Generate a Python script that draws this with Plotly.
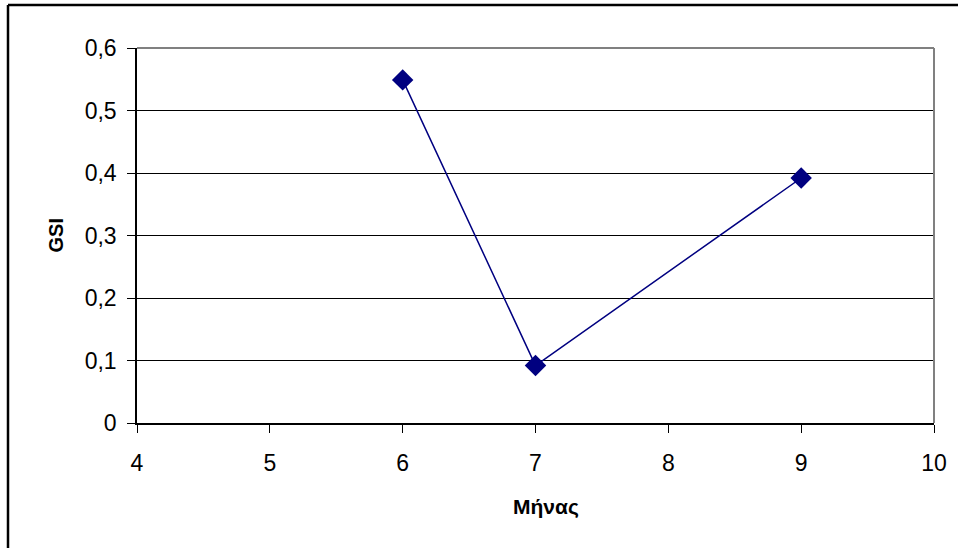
import plotly.graph_objects as go

months = [6, 7, 9]
gsi = [0.549, 0.092, 0.392]
y_ticks = [0, 0.1, 0.2, 0.3, 0.4, 0.5, 0.6]
y_tick_labels = ["0", "0,1", "0,2", "0,3", "0,4", "0,5", "0,6"]
x_ticks = [4, 5, 6, 7, 8, 9, 10]
x_label = "Μήνας"
y_label = "GSI"

W, H = 958, 548
L, R, T, B = 137, 24, 48, 125
pw, ph = W - L - R, H - T - B

fig = go.Figure()
fig.add_trace(go.Scatter(
    x=months, y=gsi, mode="lines+markers",
    line=dict(color="#000080", width=1.5),
    marker=dict(symbol="diamond", size=16.5, color="#000080"),
    showlegend=False, cliponaxis=False,
))

font = "Liberation Sans, Arial, sans-serif"
fig.update_layout(
    width=W, height=H,
    margin=dict(l=L, r=R, t=T, b=B, autoexpand=False),
    paper_bgcolor="white", plot_bgcolor="white",
    font=dict(family=font, size=23, color="black"),
    xaxis=dict(range=[4, 10], tickvals=x_ticks, showgrid=False, zeroline=False,
               showline=True, linecolor="black", linewidth=1.5,
               ticks="outside", ticklen=8, tickcolor="black",
               ticklabelstandoff=11,
               tickfont=dict(size=23), automargin=False),
    yaxis=dict(range=[0, 0.6], tickvals=y_ticks, ticktext=y_tick_labels,
               showgrid=True, gridcolor="black", gridwidth=1.3, zeroline=False,
               showline=True, linecolor="black", linewidth=1.5,
               ticks="outside", ticklen=8, tickcolor="black",
               ticklabelstandoff=6,
               tickfont=dict(size=23), automargin=False),
    shapes=[
        dict(type="line", xref="paper", yref="paper", x0=0, x1=1, y0=1, y1=1,
             line=dict(color="#808080", width=2), layer="above"),
        dict(type="line", xref="paper", yref="paper", x0=1, x1=1, y0=0, y1=1,
             line=dict(color="#808080", width=2), layer="above"),
        dict(type="line", xref="paper", yref="paper",
             x0=(8 - L) / pw, x1=(W + 5 - L) / pw,
             y0=(H - B - 5) / ph, y1=(H - B - 5) / ph,
             line=dict(color="black", width=2.5)),
        dict(type="line", xref="paper", yref="paper",
             x0=(8 - L) / pw, x1=(8 - L) / pw,
             y0=(H - B - 5) / ph, y1=-(B + 5) / ph,
             line=dict(color="black", width=2.5)),
    ],
    annotations=[
        dict(text=f"<b>{y_label}</b>", xref="paper", yref="paper",
             x=(55 - L) / pw, y=0.5, xanchor="center", yanchor="middle",
             textangle=-90, showarrow=False, font=dict(size=20)),
        dict(text=f"<b>{x_label}</b>", xref="paper", yref="paper",
             x=(546 - L) / pw, y=(H - B - 507) / ph, xanchor="center", yanchor="middle",
             showarrow=False, font=dict(size=21)),
    ],
)

fig.write_html("out.html")
